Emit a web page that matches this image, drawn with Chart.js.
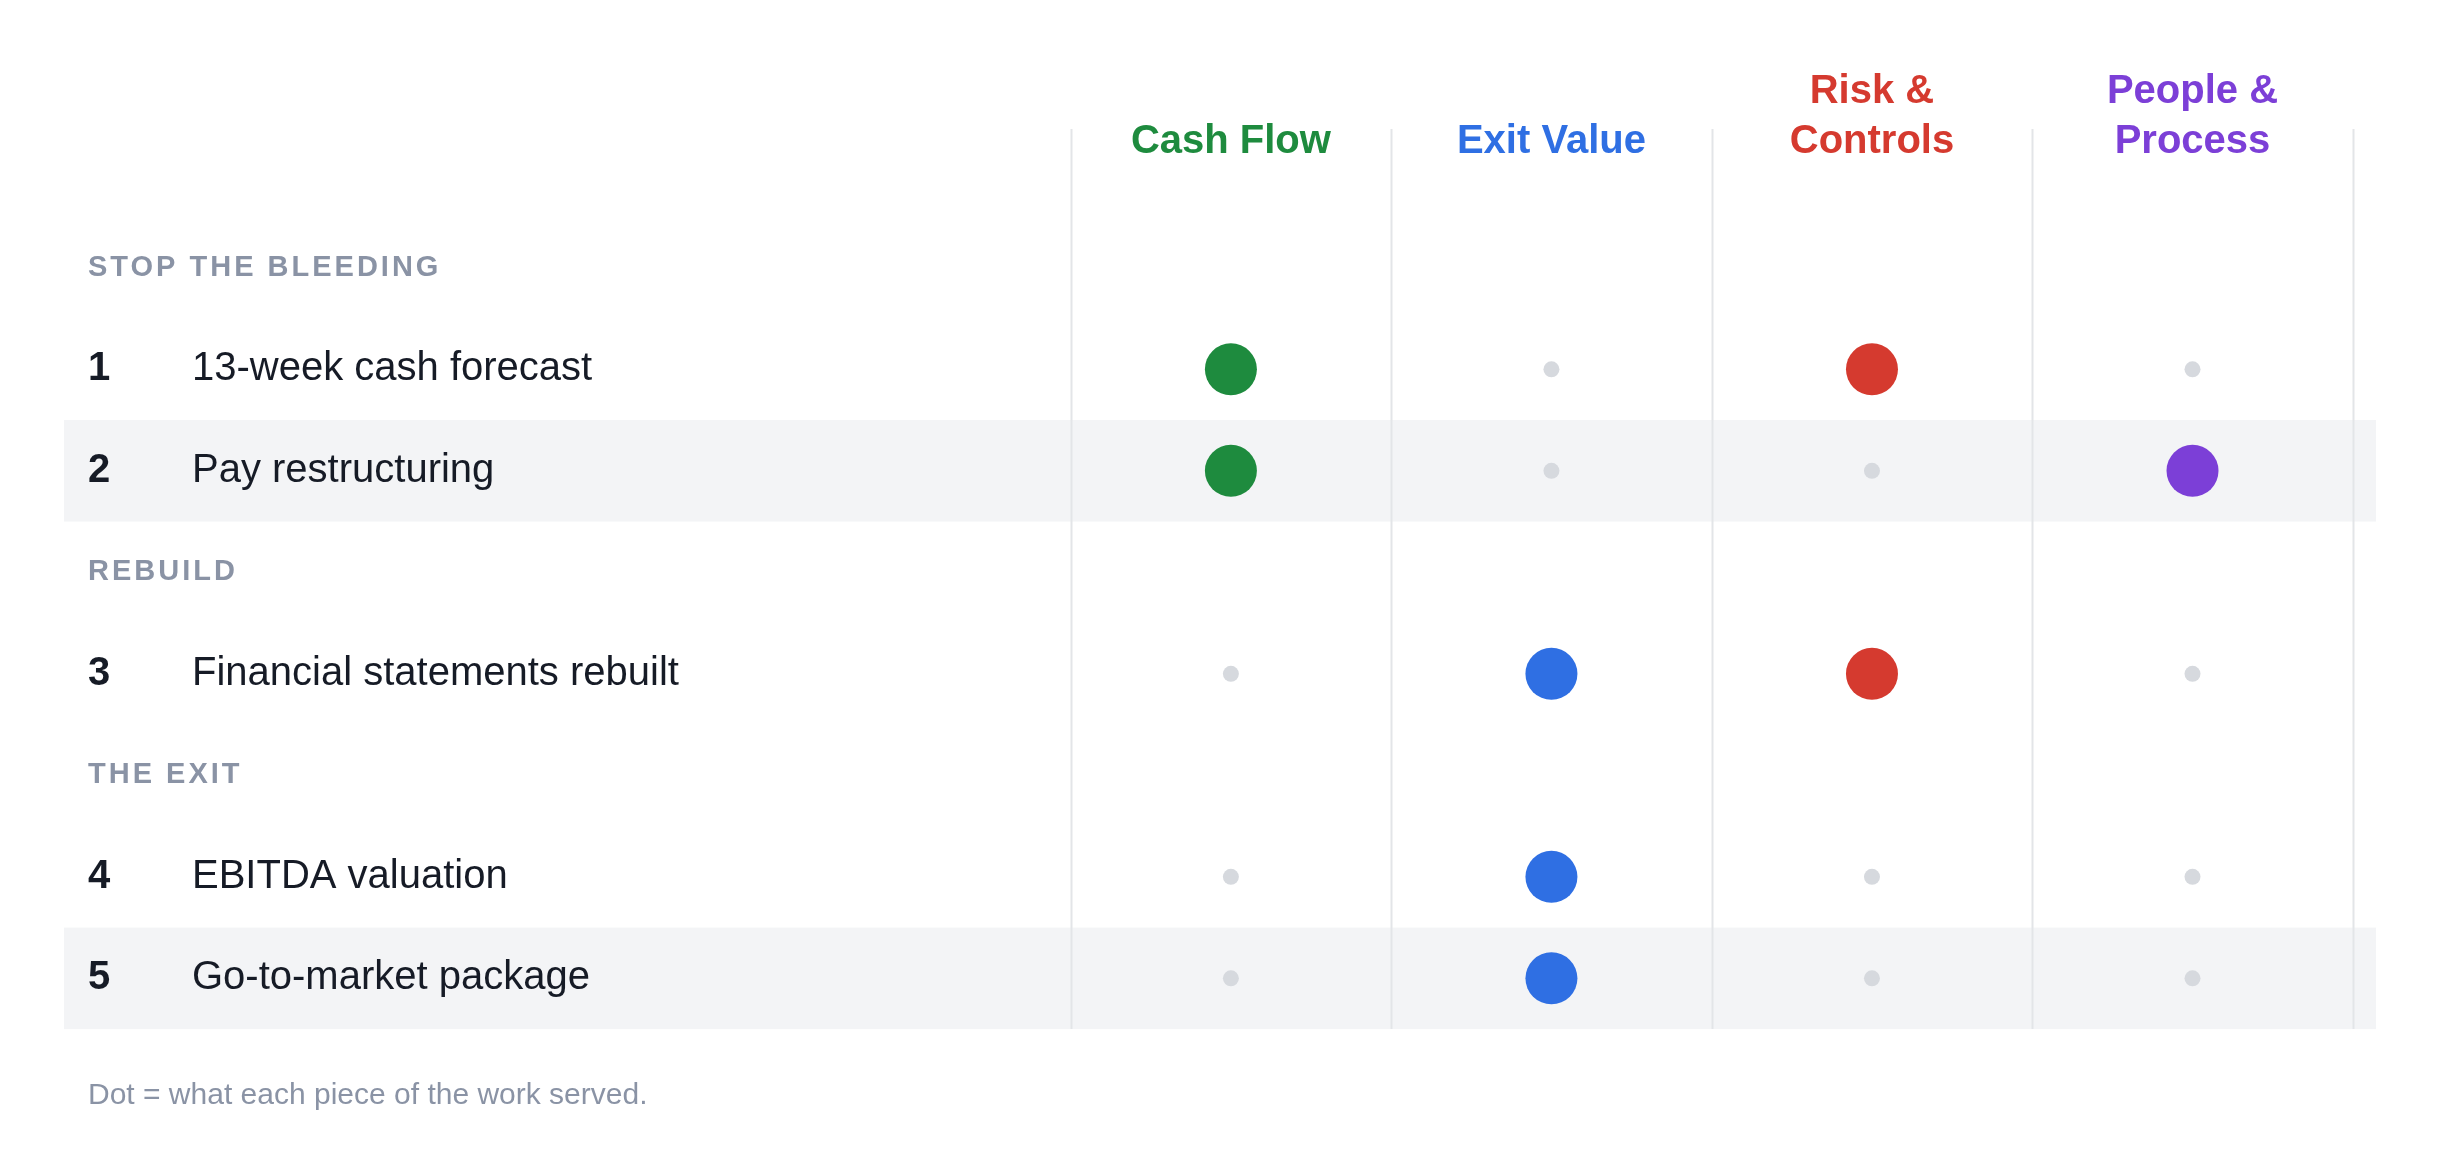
<!DOCTYPE html>
<html><head><meta charset="utf-8">
<script src="https://cdn.jsdelivr.net/npm/chart.js@4"></script>
<style>html,body{margin:0;padding:0;background:#fff}#wrap{width:2440px;height:1156px}</style>
</head><body><div id="wrap"><canvas id="c"></canvas></div>
<script>
const columns = [["Cash Flow"], ["Exit Value"], ["Risk &", "Controls"], ["People &", "Process"]];
const columnColors = ["#1e8b3e", "#2f6fe3", "#d53a2f", "#7c3fd7"];
const sections = ["STOP THE BLEEDING", "REBUILD", "THE EXIT"];
const sectionSlots = [0, 3, 5];
const rowNumbers = ["1", "2", "3", "4", "5"];
const rowLabels = ["13-week cash forecast", "Pay restructuring", "Financial statements rebuilt", "EBITDA valuation", "Go-to-market package"];
const rowSlots = [1, 2, 4, 6, 7];
const shadedRows = [1, 4];
// served[row][column]: 1 = served
const served = [
  [1, 0, 1, 0],
  [1, 0, 0, 1],
  [0, 1, 1, 0],
  [0, 1, 0, 0],
  [0, 1, 0, 0]
];
const footnote = "Dot = what each piece of the work served.";

const datasets = columns.map((c, ci) => ({
  data: rowSlots.map((s) => ({x: ci, y: s})),
  pointRadius: served.map(r => r[ci] ? 26 : 8),
  pointHoverRadius: served.map(r => r[ci] ? 26 : 8),
  pointBackgroundColor: served.map(r => r[ci] ? columnColors[ci] : "#d6d9de"),
  pointBorderWidth: 0
}));

const F = '"Helvetica Neue", Arial, "Liberation Sans", sans-serif';
const deco = {
  id: 'deco',
  beforeDatasetsDraw(chart) {
    const {ctx, scales: {x, y}} = chart;
    ctx.save();
    ctx.fillStyle = "#f3f4f6";
    shadedRows.forEach(ri => {
      const s = rowSlots[ri];
      const t = y.getPixelForValue(s - 0.5), b = y.getPixelForValue(s + 0.5);
      ctx.fillRect(64, t, 2376 - 64, b - t);
    });
    ctx.strokeStyle = "#e3e5e8"; ctx.lineWidth = 2;
    const top = 129, bot = y.getPixelForValue(7.5);
    for (let i = 0; i <= columns.length; i++) {
      const px = Math.round(x.getPixelForValue(i - 0.5)) + 0.5;
      ctx.beginPath(); ctx.moveTo(px, top); ctx.lineTo(px, bot); ctx.stroke();
    }
    ctx.textAlign = "center"; ctx.textBaseline = "middle";
    ctx.font = "bold 40px " + F;
    columns.forEach((lines, ci) => {
      ctx.fillStyle = columnColors[ci];
      const cx = x.getPixelForValue(ci);
      lines.forEach((ln, li) => {
        const yy = 142 - (lines.length - 1 - li) * 50;
        ctx.fillText(ln, cx, yy);
      });
    });
    ctx.textAlign = "left";
    ctx.font = "bold 29px " + F;
    ctx.fillStyle = "#8a93a5";
    ctx.letterSpacing = "3px";
    sections.forEach((s, i) => ctx.fillText(s, 88, y.getPixelForValue(sectionSlots[i])));
    ctx.letterSpacing = "0px";
    rowLabels.forEach((lab, ri) => {
      const py = y.getPixelForValue(rowSlots[ri]);
      ctx.fillStyle = "#161b26";
      ctx.font = "bold 40px " + F;
      ctx.fillText(rowNumbers[ri], 88, py);
      ctx.font = "40px " + F;
      ctx.fillText(lab, 192, py);
    });
    ctx.font = "30px " + F;
    ctx.fillStyle = "#8a93a5";
    ctx.fillText(footnote, 88, 1096);
    ctx.restore();
  }
};

new Chart(document.getElementById('c'), {
  type: 'scatter',
  data: {datasets},
  options: {
    responsive: true, maintainAspectRatio: false, devicePixelRatio: 1, animation: false,
    layout: {padding: 0},
    plugins: {legend: {display: false}, tooltip: {enabled: false}},
    scales: {
      x: {type: 'linear', display: false, min: -3.759, max: 3.691},
      y: {type: 'linear', display: false, reverse: true, min: -2.382, max: 8.494}
    }
  },
  plugins: [deco]
});
</script></body></html>
